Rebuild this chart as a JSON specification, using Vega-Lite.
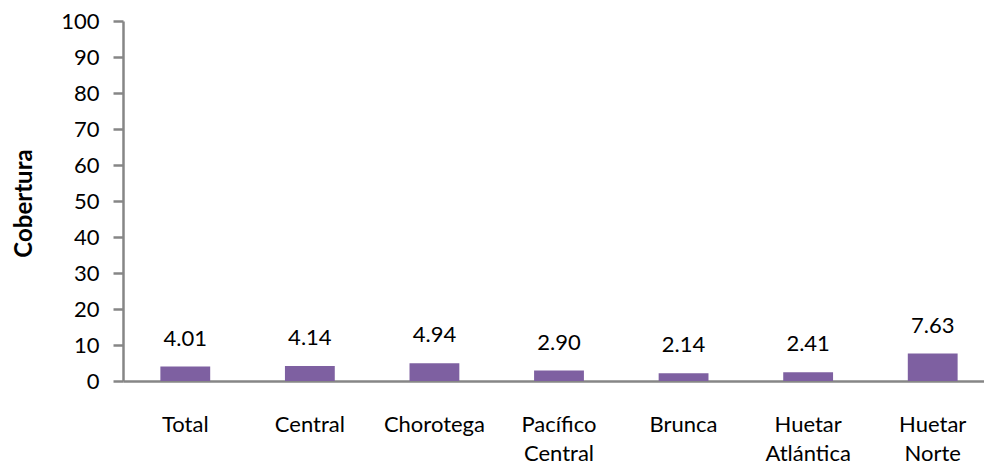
{
  "$schema": "https://vega.github.io/schema/vega-lite/v6.json",
  "autosize": {"type": "none"},
  "padding": {"left": 123, "top": 21, "right": 0, "bottom": 86},
  "width": 872,
  "height": 360,
  "background": "white",
  "config": {"view": {"stroke": null}, "font": "Lato"},
  "data": {"values": [
    {"region": "Total", "value": 4.01},
    {"region": "Central", "value": 4.14},
    {"region": "Chorotega", "value": 4.94},
    {"region": "Pacífico Central", "value": 2.90},
    {"region": "Brunca", "value": 2.14},
    {"region": "Huetar Atlántica", "value": 2.41},
    {"region": "Huetar Norte", "value": 7.63}
  ]},
  "encoding": {
    "x": {"field": "region", "type": "nominal", "sort": null,
      "scale": {"paddingInner": 0.6, "paddingOuter": 0.3},
      "axis": {"title": null, "labelAngle": 0, "ticks": false, "domainColor": "#868686", "domainWidth": 2.5,
        "labelFont": "Lato", "labelFontSize": 22, "labelColor": "black", "labelPadding": 33, "labelBaseline": "top",
        "labelLineHeight": 29, "labelExpr": "split(datum.label, ' ')"}},
    "y": {"field": "value", "type": "quantitative",
      "scale": {"domain": [0, 100]},
      "axis": {"title": "Cobertura", "titleFont": "Lato", "titleFontSize": 24, "titleFontWeight": "bold", "titleColor": "black",
        "titleX": -99, "titleY": 182, "titleAngle": -90, "titleBaseline": "middle", "titleAlign": "center",
        "values": [0,10,20,30,40,50,60,70,80,90,100], "grid": false, "tickSize": 10, "tickWidth": 2.5, "tickColor": "#868686",
        "domainColor": "#868686", "domainWidth": 2.5, "labelFont": "Lato", "labelFontSize": 22, "labelColor": "black", "labelPadding": 14}}
  },
  "layer": [
    {"mark": {"type": "bar", "color": "#7E60A1"}},
    {"mark": {"type": "text", "baseline": "bottom", "dy": -16, "font": "Lato", "fontSize": 22, "color": "black"},
     "encoding": {"text": {"field": "value", "type": "quantitative", "format": ".2f"}}}
  ]
}
